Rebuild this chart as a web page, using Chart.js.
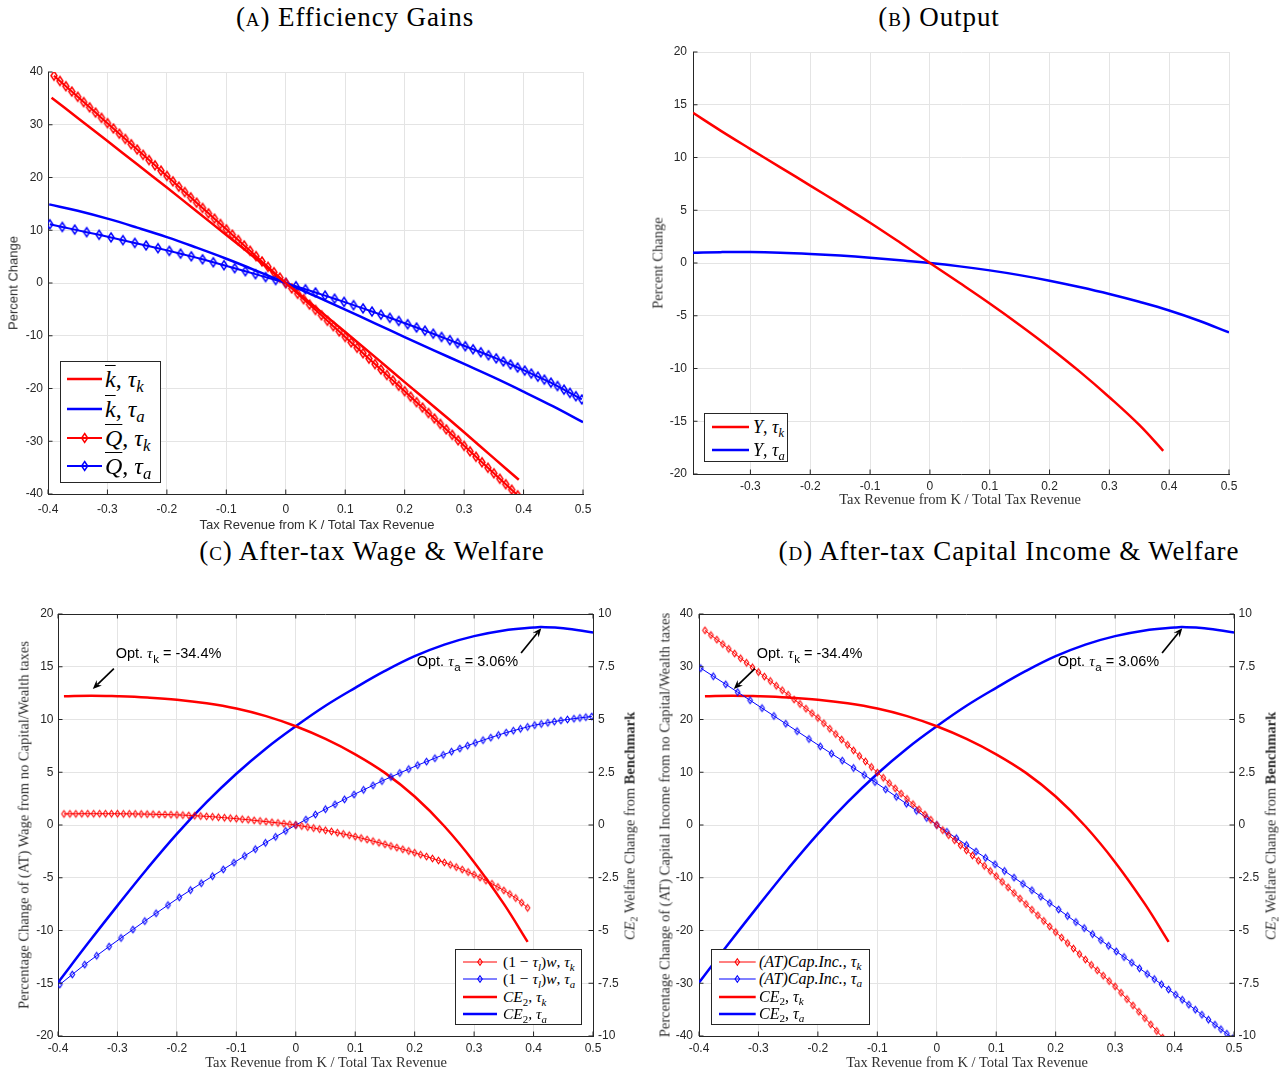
<!DOCTYPE html>
<html><head><meta charset="utf-8">
<script src="https://cdn.jsdelivr.net/npm/chart.js@4.4.1/dist/chart.umd.min.js"></script>
<style>
html,body{margin:0;padding:0;background:#fff}
#page{position:relative;width:1287px;height:1074px;overflow:hidden;background:#fff}
#page canvas{position:absolute;z-index:1}
.ttl{position:absolute;font-family:'Liberation Serif',serif;font-size:27px;letter-spacing:0.9px;color:#000;white-space:nowrap;transform:translate(-50%,-50%);z-index:3}
.sc{font-variant:small-caps}
.ax{position:absolute;white-space:nowrap;color:#303030;transform:translate(-50%,-50%);z-index:3}
.rot{transform:translate(-50%,-50%) rotate(-90deg)}
.sans{font-family:'Liberation Sans',Arial,sans-serif;font-size:13px}
.serif{font-family:'Liberation Serif',serif;font-size:14.5px}
.leg{position:absolute;background:#fff;border:1px solid #262626;box-sizing:border-box;z-index:5;font-family:'Liberation Serif',serif;color:#000}
.leg .txt{position:absolute;white-space:nowrap;transform:translateY(-50%);line-height:1}
.leg svg{position:absolute}
.ov{text-decoration:overline;text-decoration-thickness:1px}
sub{font-size:70%;vertical-align:-0.3em;line-height:0}
</style></head>
<body><div id="page"></div>
<script>
// ---------------- tick label arrays ----------------
const xTicks  = [-0.4,-0.3,-0.2,-0.1,0,0.1,0.2,0.3,0.4,0.5];
const xTicksB = [-0.3,-0.2,-0.1,0,0.1,0.2,0.3,0.4,0.5];
const yTicks40 = [-40,-30,-20,-10,0,10,20,30,40];
const yTicks20 = [-20,-15,-10,-5,0,5,10,15,20];
const yTicksW  = [-10,-7.5,-5,-2.5,0,2.5,5,7.5,10];

// ---------------- policy grids (x = tax revenue from K / total) ----------------
const gridK = [-0.39,-0.38,-0.37,-0.36,-0.35,-0.34,-0.33,-0.32,-0.31,-0.3,-0.29,-0.28,-0.27,-0.26,-0.25,-0.24,-0.23,-0.22,-0.21,-0.2,-0.19,-0.18,-0.17,-0.16,-0.15,-0.14,-0.13,-0.12,-0.11,-0.1,-0.09,-0.08,-0.07,-0.06,-0.05,-0.04,-0.03,-0.02,-0.01,0,0.01,0.02,0.03,0.04,0.05,0.06,0.07,0.08,0.09,0.1,0.11,0.12,0.13,0.14,0.15,0.16,0.17,0.18,0.19,0.2,0.21,0.22,0.23,0.24,0.25,0.26,0.27,0.28,0.29,0.3,0.31,0.32,0.33,0.34,0.35,0.36,0.37,0.38,0.39];
const gridA = [-0.397,-0.376,-0.355,-0.335,-0.314,-0.294,-0.274,-0.254,-0.235,-0.215,-0.196,-0.177,-0.159,-0.14,-0.122,-0.104,-0.086,-0.068,-0.051,-0.034,-0.017,0,0.017,0.033,0.05,0.066,0.082,0.098,0.114,0.13,0.145,0.16,0.175,0.19,0.205,0.22,0.234,0.248,0.262,0.276,0.289,0.302,0.315,0.328,0.341,0.354,0.366,0.378,0.39,0.402,0.413,0.424,0.435,0.446,0.457,0.468,0.478,0.488,0.498];

// ---------------- Panel A: Efficiency gains ----------------
const xA_kbar_tk = [-0.394,-0.35,-0.3,-0.25,-0.2,-0.15,-0.1,-0.05,0,0.05,0.1,0.15,0.2,0.25,0.3,0.35,0.392];
const A_kbar_tk  = [35.1,31.3,26.9,22.5,18.1,13.6,9.1,4.6,0,-4.6,-9.3,-14.0,-18.8,-23.5,-28.3,-33.2,-37.3];
const xA_kbar_ta = [-0.398,-0.35,-0.3,-0.25,-0.2,-0.15,-0.1,-0.05,0,0.05,0.1,0.15,0.2,0.25,0.3,0.35,0.4,0.45,0.5];
const A_kbar_ta  = [14.9,13.7,12.2,10.5,8.7,6.7,4.6,2.35,0,-2.5,-5.05,-7.65,-10.25,-12.8,-15.35,-17.9,-20.6,-23.4,-26.4];
const A_Q_tk = [39.3,38.3,37.3,36.3,35.3,34.3,33.3,32.3,31.3,30.3,29.3,28.3,27.3,26.3,25.3,24.3,23.3,22.3,21.3,20.3,19.27,18.26,17.25,16.24,15.23,14.22,13.21,12.2,11.18,10.17,9.16,8.14,7.13,6.11,5.09,4.08,3.06,2.04,1.02,0,-1.02,-2.04,-3.06,-4.09,-5.11,-6.13,-7.16,-8.18,-9.2,-10.23,-11.26,-12.28,-13.31,-14.34,-15.37,-16.4,-17.43,-18.46,-19.49,-20.52,-21.55,-22.59,-23.62,-24.65,-25.69,-26.72,-27.76,-28.8,-29.83,-30.87,-31.91,-32.95,-33.99,-35.03,-36.07,-37.11,-38.15,-39.19,-40.24];
const A_Q_ta = [11.13,10.62,10.12,9.64,9.14,8.64,8.12,7.6,7.11,6.59,6.09,5.56,5.05,4.49,3.93,3.37,2.8,2.23,1.68,1.12,0.56,0,-0.61,-1.19,-1.8,-2.39,-2.98,-3.58,-4.2,-4.82,-5.41,-6.0,-6.6,-7.2,-7.81,-8.44,-9.03,-9.62,-10.23,-10.84,-11.42,-11.99,-12.56,-13.13,-13.7,-14.29,-14.87,-15.44,-16.02,-16.6,-17.18,-17.75,-18.32,-18.89,-19.53,-20.22,-20.84,-21.46,-22.08];

// ---------------- Panel B: Output ----------------
const xB_tk  = [-0.396,-0.35,-0.3,-0.25,-0.2,-0.15,-0.1,-0.05,0,0.05,0.1,0.15,0.2,0.25,0.3,0.35,0.39];
const B_Y_tk = [14.23,12.55,10.8,9.07,7.34,5.6,3.82,1.94,0,-1.9,-3.84,-5.87,-8.0,-10.27,-12.72,-15.35,-17.8];
const xB_ta  = [-0.396,-0.35,-0.3,-0.25,-0.2,-0.15,-0.1,-0.05,0,0.05,0.1,0.15,0.2,0.25,0.3,0.35,0.4,0.45,0.5];
const B_Y_ta = [0.98,1.03,1.04,0.98,0.86,0.7,0.5,0.26,0,-0.32,-0.7,-1.15,-1.68,-2.28,-2.94,-3.68,-4.5,-5.47,-6.58];

// ---------------- Welfare CE2 (right axis, panels C and D) ----------------
const xW_tk = [-0.39,-0.344,-0.3,-0.25,-0.2,-0.15,-0.1,-0.05,0,0.05,0.1,0.15,0.2,0.25,0.3,0.35,0.39];
const W_tk  = [6.1,6.13,6.1,6.04,5.94,5.77,5.52,5.16,4.68,4.08,3.35,2.47,1.35,-0.06,-1.76,-3.74,-5.54];
const xW_ta = [-0.4,-0.35,-0.3,-0.25,-0.2,-0.15,-0.1,-0.05,0,0.05,0.1,0.15,0.2,0.25,0.3,0.35,0.4,0.413,0.45,0.5];
const W_ta  = [-7.47,-5.62,-3.82,-2.07,-0.42,1.08,2.43,3.63,4.68,5.65,6.5,7.3,8.0,8.55,8.95,9.22,9.36,9.38,9.33,9.12];

// ---------------- Panel C: after-tax wage ----------------
const C_w_tk = [1.05,1.06,1.06,1.07,1.07,1.07,1.07,1.07,1.07,1.07,1.06,1.06,1.05,1.04,1.03,1.02,1.0,0.99,0.98,0.96,0.94,0.91,0.88,0.85,0.82,0.78,0.74,0.69,0.65,0.6,0.55,0.5,0.44,0.38,0.32,0.26,0.2,0.13,0.07,0,-0.09,-0.19,-0.29,-0.39,-0.5,-0.61,-0.73,-0.85,-0.97,-1.1,-1.24,-1.38,-1.53,-1.68,-1.83,-1.99,-2.14,-2.3,-2.46,-2.63,-2.81,-2.99,-3.17,-3.36,-3.55,-3.77,-3.99,-4.22,-4.46,-4.7,-4.98,-5.27,-5.57,-5.88,-6.2,-6.55,-6.92,-7.36,-7.85];
const C_w_ta = [-15.12,-14.17,-13.23,-12.39,-11.52,-10.71,-9.91,-9.11,-8.37,-7.59,-6.86,-6.17,-5.52,-4.85,-4.21,-3.57,-2.93,-2.29,-1.69,-1.12,-0.56,0,0.51,0.99,1.5,1.96,2.43,2.89,3.33,3.76,4.17,4.55,4.93,5.3,5.67,6.01,6.33,6.65,6.95,7.25,7.52,7.79,8.04,8.28,8.53,8.76,8.94,9.12,9.3,9.47,9.58,9.69,9.8,9.91,10.0,10.08,10.15,10.22,10.29];

// ---------------- Panel D: after-tax capital income ----------------
const D_c_tk = [36.9,36.0,35.15,34.3,33.4,32.5,31.6,30.75,29.9,29.0,28.15,27.3,26.4,25.55,24.7,23.8,22.95,22.05,21.2,20.3,19.3,18.25,17.25,16.2,15.2,14.15,13.1,12.05,11.0,9.95,8.95,7.95,6.95,5.95,4.95,3.95,2.97,1.98,0.99,0,-0.96,-1.92,-2.88,-3.84,-4.8,-5.78,-6.76,-7.74,-8.72,-9.7,-10.76,-11.82,-12.88,-13.94,-15.0,-16.06,-17.12,-18.18,-19.24,-20.3,-21.34,-22.38,-23.42,-24.46,-25.5,-26.52,-27.54,-28.56,-29.58,-30.6,-31.8,-33.0,-34.2,-35.4,-36.6,-37.8,-39.05,-40.3,-41.5];
const D_c_ta = [29.73,28.2,26.67,25.19,23.64,22.16,20.68,19.2,17.79,16.31,14.91,13.52,12.21,10.81,9.48,8.15,6.76,5.35,4.03,2.69,1.34,0,-1.29,-2.51,-3.8,-5.02,-6.23,-7.45,-8.71,-9.97,-11.16,-12.36,-13.58,-14.79,-16.01,-17.24,-18.39,-19.54,-20.68,-21.83,-22.9,-23.96,-25.03,-26.1,-27.16,-28.23,-29.21,-30.2,-31.18,-32.17,-33.12,-34.06,-35.01,-35.96,-36.9,-37.85,-38.71,-39.57,-40.43];

// optimum annotations (welfare-axis units)
const optLabels = [{sub:'k', value:' = -34.4%'}, {sub:'a', value:' = 3.06%'}];
const optAnchors = [
  {textAt:[-0.303,8.17], tail:[-0.306,7.41], head:[-0.3415,6.45]},
  {textAt:[0.2035,7.79], tail:[0.379,8.15], head:[0.413,9.33]}
];

// ================= rendering =================
const RED='#ff0000', BLUE='#0000ff', AXC='#262626', GRIDC='#e4e4e4';
Chart.defaults.animation=false;
Chart.defaults.font.family="'Liberation Sans', Arial, sans-serif";
const page=document.getElementById('page');

function diamondImg(color,w,h,lw){
  const c=document.createElement('canvas');
  const p=Math.ceil(lw)+1;
  c.width=Math.ceil(w+2*p); c.height=Math.ceil(h+2*p);
  const g=c.getContext('2d');
  const cx=c.width/2, cy=c.height/2;
  g.strokeStyle=color; g.lineWidth=lw;
  g.beginPath(); g.moveTo(cx,cy-h/2); g.lineTo(cx+w/2,cy); g.lineTo(cx,cy+h/2); g.lineTo(cx-w/2,cy); g.closePath(); g.stroke();
  return c;
}
const dBigR=diamondImg(RED,6,9,1.5), dBigB=diamondImg(BLUE,6,9,1.5);
const dSmR=diamondImg(RED,4.5,6.5,1.1), dSmB=diamondImg(BLUE,4.5,6.5,1.1);

function pts(xs,ys){return xs.map((x,i)=>({x:x,y:ys[i]}));}
function solid(xs,ys,color,lw,axis){return {data:pts(xs,ys),borderColor:color,borderWidth:lw,pointRadius:0,tension:0.4,fill:false,yAxisID:axis||'y'};}
function marked(xs,ys,color,lw,img,axis){return {data:pts(xs,ys),borderColor:color,borderWidth:lw,pointStyle:img,pointRadius:3,pointHoverRadius:3,pointBackgroundColor:'rgba(0,0,0,0)',pointBorderColor:color,tension:0,fill:false,yAxisID:axis||'y'};}

const framePlugin={id:'frame',afterDraw(chart,args,o){
  const ctx=chart.ctx,a=chart.chartArea,sx=chart.scales.x,sy=chart.scales.y;
  ctx.save(); ctx.strokeStyle=AXC; ctx.lineWidth=1;
  const T=4.5;
  ctx.beginPath();
  if(o.box){ctx.moveTo(a.left,a.top+0.5);ctx.lineTo(a.right,a.top+0.5);}
  sx.ticks.forEach(t=>{const px=sx.getPixelForValue(t.value);
    ctx.moveTo(px,a.bottom);ctx.lineTo(px,a.bottom-T);
    if(o.box){ctx.moveTo(px,a.top);ctx.lineTo(px,a.top+T);} });
  sy.ticks.forEach(t=>{const py=sy.getPixelForValue(t.value);
    ctx.moveTo(a.left,py);ctx.lineTo(a.left+T,py);});
  if(chart.scales.y2){const s2=chart.scales.y2; s2.ticks.forEach(t=>{const py=s2.getPixelForValue(t.value);ctx.moveTo(a.right,py);ctx.lineTo(a.right-T,py);});}
  ctx.stroke(); ctx.restore();
}};

function drawArrow(ctx,x1,y1,x2,y2){
  const ang=Math.atan2(y2-y1,x2-x1),L=9,W=3.8,c=Math.cos(ang),s=Math.sin(ang);
  ctx.beginPath();ctx.moveTo(x1,y1);ctx.lineTo(x2-L*0.7*c,y2-L*0.7*s);ctx.lineWidth=1.7;ctx.stroke();
  ctx.beginPath();ctx.moveTo(x2,y2);
  ctx.lineTo(x2-L*c+W*s,y2-L*s-W*c);
  ctx.lineTo(x2-L*0.65*c,y2-L*0.65*s);
  ctx.lineTo(x2-L*c-W*s,y2-L*s+W*c);
  ctx.closePath();ctx.fill();
}
const annPlugin={id:'ann',afterDatasetsDraw(chart,args,o){
  if(!o.on) return;
  const ctx=chart.ctx,sx=chart.scales.x,sy=chart.scales.y2;
  ctx.save();ctx.fillStyle='#000';ctx.strokeStyle='#000';
  optAnchors.forEach((an,i)=>{
    const lab=optLabels[i];
    drawArrow(ctx,sx.getPixelForValue(an.tail[0]),sy.getPixelForValue(an.tail[1]),sx.getPixelForValue(an.head[0]),sy.getPixelForValue(an.head[1]));
    let x=sx.getPixelForValue(an.textAt[0]); const y=sy.getPixelForValue(an.textAt[1]);
    ctx.textBaseline='alphabetic';
    const base=y+5;
    ctx.font="14.5px 'Liberation Sans', Arial, sans-serif"; ctx.fillText('Opt. ',x,base); x+=ctx.measureText('Opt. ').width;
    ctx.font="italic 15.5px 'Liberation Serif', serif"; ctx.fillText('τ',x,base); x+=ctx.measureText('τ').width+0.5;
    ctx.font="11.5px 'Liberation Sans', Arial, sans-serif"; ctx.fillText(lab.sub,x,base+5); x+=ctx.measureText(lab.sub).width;
    ctx.font="14.5px 'Liberation Sans', Arial, sans-serif"; ctx.fillText(lab.value,x,base);
  });
  ctx.restore();
}};

function axisCfg(min,max,ticks,kind,pad,size,extra){
  const c={type:'linear',min:min,max:max,
    afterBuildTicks:s=>{s.ticks=ticks.map(v=>({value:v}));},
    afterFit:s=>{ if(kind==='x') s.height=size; else s.width=size; },
    grid:{color:GRIDC,lineWidth:1,drawTicks:false},
    border:{display:true,color:AXC,width:1},
    ticks:{padding:pad,autoSkip:false,maxRotation:0,color:AXC,font:{size:12,family:"'Liberation Sans', Arial, sans-serif"},callback:v=>String(v)}};
  return Object.assign(c,extra||{});
}

function makeChart(area,cfg){
  const Wy=50,Wr=50,padT=15,padR=20,Hx=24;
  const hasR=!!cfg.y2;
  const W=(area.r-area.l)+Wy+(hasR?Wr:padR), H=(area.b-area.t)+padT+Hx;
  const cv=document.createElement('canvas');
  cv.width=Math.round(W); cv.height=Math.round(H);
  cv.style.left=(area.l-Wy)+'px'; cv.style.top=(area.t-padT)+'px';
  cv.style.width=Math.round(W)+'px'; cv.style.height=Math.round(H)+'px';
  page.appendChild(cv);
  const scales={
    x:axisCfg(cfg.x[0],cfg.x[1],cfg.x[2],'x',cfg.xPad,Hx),
    y:axisCfg(cfg.y[0],cfg.y[1],cfg.y[2],'y',cfg.yPad,Wy,{position:'left'})
  };
  if(hasR){ scales.y2=axisCfg(cfg.y2[0],cfg.y2[1],cfg.y2[2],'y',cfg.y2Pad,Wr,{position:'right'}); scales.y2.grid={drawOnChartArea:false,drawTicks:false}; }
  return new Chart(cv,{type:'line',data:{datasets:cfg.datasets},
    options:{responsive:false,animation:false,events:[],
      layout:{padding:{left:0,top:padT,right:hasR?0:padR,bottom:0}},
      plugins:{legend:{display:false},tooltip:{enabled:false},frame:{box:!!cfg.box},ann:{on:!!cfg.ann}},
      scales:scales},
    plugins:[framePlugin,annPlugin]});
}

// Panel A
makeChart({l:48,r:583,t:72,b:493.5},{x:[-0.4,0.5,xTicks],y:[-40,40,yTicks40],xPad:8,yPad:5,
  datasets:[
    solid(xA_kbar_tk,A_kbar_tk,RED,2.5),
    solid(xA_kbar_ta,A_kbar_ta,BLUE,2.5),
    marked(gridK,A_Q_tk,RED,2,dBigR),
    marked(gridA,A_Q_ta,BLUE,2,dBigB)
  ]});
// Panel B
makeChart({l:692.5,r:1228.3,t:51.7,b:474},{x:[-0.396,0.5,xTicksB],y:[-20,20,yTicks20],xPad:5,yPad:6,
  datasets:[
    solid(xB_tk,B_Y_tk,RED,2.5),
    solid(xB_ta,B_Y_ta,BLUE,2.5)
  ]});
// Panel C
makeChart({l:57.7,r:592.6,t:614.3,b:1036.7},{x:[-0.4,0.5,xTicks],y:[-20,20,yTicks20],y2:[-10,10,yTicksW],xPad:5,yPad:4.5,y2Pad:5,box:true,ann:true,
  datasets:[
    marked(gridK,C_w_tk,RED,1,dSmR),
    marked(gridA,C_w_ta,BLUE,1,dSmB),
    solid(xW_tk,W_tk,RED,2.5,'y2'),
    solid(xW_ta,W_ta,BLUE,2.5,'y2')
  ]});
// Panel D
makeChart({l:699.3,r:1234,t:614.3,b:1036.7},{x:[-0.4,0.5,xTicks],y:[-40,40,yTicks40],y2:[-10,10,yTicksW],xPad:5,yPad:6,y2Pad:4.5,box:true,ann:true,
  datasets:[
    marked(gridK,D_c_tk,RED,1,dSmR),
    marked(gridA,D_c_ta,BLUE,1,dSmB),
    solid(xW_tk,W_tk,RED,2.5,'y2'),
    solid(xW_ta,W_ta,BLUE,2.5,'y2')
  ]});

// ---------- text: titles and axis titles ----------
function addText(cls,x,y,html,style){const d=document.createElement('div');d.className=cls;d.style.left=x+'px';d.style.top=y+'px';if(style)d.style.cssText+=style;d.innerHTML=html;page.appendChild(d);return d;}
addText('ttl',355,17,'(<span class="sc">a</span>) Efficiency Gains');
addText('ttl',939,17,'(<span class="sc">b</span>) Output');
addText('ttl',372,551,'(<span class="sc">c</span>) After-tax Wage &amp; Welfare');
addText('ttl',1009,551,'(<span class="sc">d</span>) After-tax Capital Income &amp; Welfare');

const XT='Tax Revenue from K / Total Tax Revenue';
const WT='<i>CE</i><sub>2</sub> Welfare Change from <b>Benchmark</b>';
addText('ax sans rot',13,283,'Percent Change');
addText('ax sans',317,524,XT);
addText('ax serif rot',658,263,'Percent Change');
addText('ax serif',960,499,XT);
addText('ax serif rot',24,825,'Percentage Change of (AT) Wage from no Capital/Wealth taxes');
addText('ax serif',326,1062,XT);
addText('ax serif rot',630,826,WT);
addText('ax serif rot',665,825,'Percentage Change of (AT) Capital Income from no Capital/Wealth taxes');
addText('ax serif',967,1062,XT);
addText('ax serif rot',1271,826,WT);

// ---------- legends ----------
function legend(box,rows,lx0,lx1,tx,font,items){
  const d=document.createElement('div');d.className='leg';
  d.style.left=box[0]+'px';d.style.top=box[1]+'px';d.style.width=box[2]+'px';d.style.height=box[3]+'px';
  d.style.fontSize=font+'px';
  items.forEach((it,i)=>{
    const y=rows[i];
    const ns='http://www.w3.org/2000/svg';
    const svg=document.createElementNS(ns,'svg');
    const w=lx1-lx0,h=16;
    svg.setAttribute('width',w);svg.setAttribute('height',h);
    svg.style.left=lx0+'px';svg.style.top=(y-h/2)+'px';
    const ln=document.createElementNS(ns,'line');
    ln.setAttribute('x1',0);ln.setAttribute('x2',w);ln.setAttribute('y1',h/2);ln.setAttribute('y2',h/2);
    ln.setAttribute('stroke',it.c);ln.setAttribute('stroke-width',it.lw);svg.appendChild(ln);
    if(it.dm){const m=w/2,dw=it.dm[0]/2,dh=it.dm[1]/2;const p=document.createElementNS(ns,'polygon');
      p.setAttribute('points',`${m},${h/2-dh} ${m+dw},${h/2} ${m},${h/2+dh} ${m-dw},${h/2}`);
      p.setAttribute('fill','none');p.setAttribute('stroke',it.c);p.setAttribute('stroke-width',it.dm[2]);svg.appendChild(p);}
    d.appendChild(svg);
    const t=document.createElement('div');t.className='txt';t.style.left=tx+'px';t.style.top=y+'px';t.innerHTML=it.html;d.appendChild(t);
  });
  page.appendChild(d);
}
const tk='<i>τ</i><sub><i>k</i></sub>', ta='<i>τ</i><sub><i>a</i></sub>';
legend([60,361,101,122],[16.7,46.7,75.7,104.3],5.7,41,44,24,[
  {c:RED,lw:2.5,html:'<i class="ov">k</i>, '+tk},
  {c:BLUE,lw:2.5,html:'<i class="ov">k</i>, '+ta},
  {c:RED,lw:2,dm:[6,9,1.5],html:'<i class="ov">Q</i>, '+tk},
  {c:BLUE,lw:2,dm:[6,9,1.5],html:'<i class="ov">Q</i>, '+ta}
]);
legend([704,413,84,49],[13,36],7,44,48,18,[
  {c:RED,lw:2.5,html:'<i>Y</i>, '+tk},
  {c:BLUE,lw:2.5,html:'<i>Y</i>, '+ta}
]);
const tl='<i>τ</i><sub><i>l</i></sub>';
legend([455,949,127,76],[11.5,29,46.5,64],7.4,41.4,47,15.5,[
  {c:RED,lw:1,dm:[4.5,6.5,1.1],html:'(1 − '+tl+')<i>w</i>, '+tk},
  {c:BLUE,lw:1,dm:[4.5,6.5,1.1],html:'(1 − '+tl+')<i>w</i>, '+ta},
  {c:RED,lw:2.5,html:'<i>CE</i><sub>2</sub>, '+tk},
  {c:BLUE,lw:2.5,html:'<i>CE</i><sub>2</sub>, '+ta}
]);
legend([711,949,159,75.5],[11.5,29.3,47,64.3],7.3,44,47,16,[
  {c:RED,lw:1,dm:[4.5,6.5,1.1],html:'<i>(AT)Cap.Inc.</i>, '+tk},
  {c:BLUE,lw:1,dm:[4.5,6.5,1.1],html:'<i>(AT)Cap.Inc.</i>, '+ta},
  {c:RED,lw:2.5,html:'<i>CE</i><sub>2</sub>, '+tk},
  {c:BLUE,lw:2.5,html:'<i>CE</i><sub>2</sub>, '+ta}
]);
</script></body></html>
